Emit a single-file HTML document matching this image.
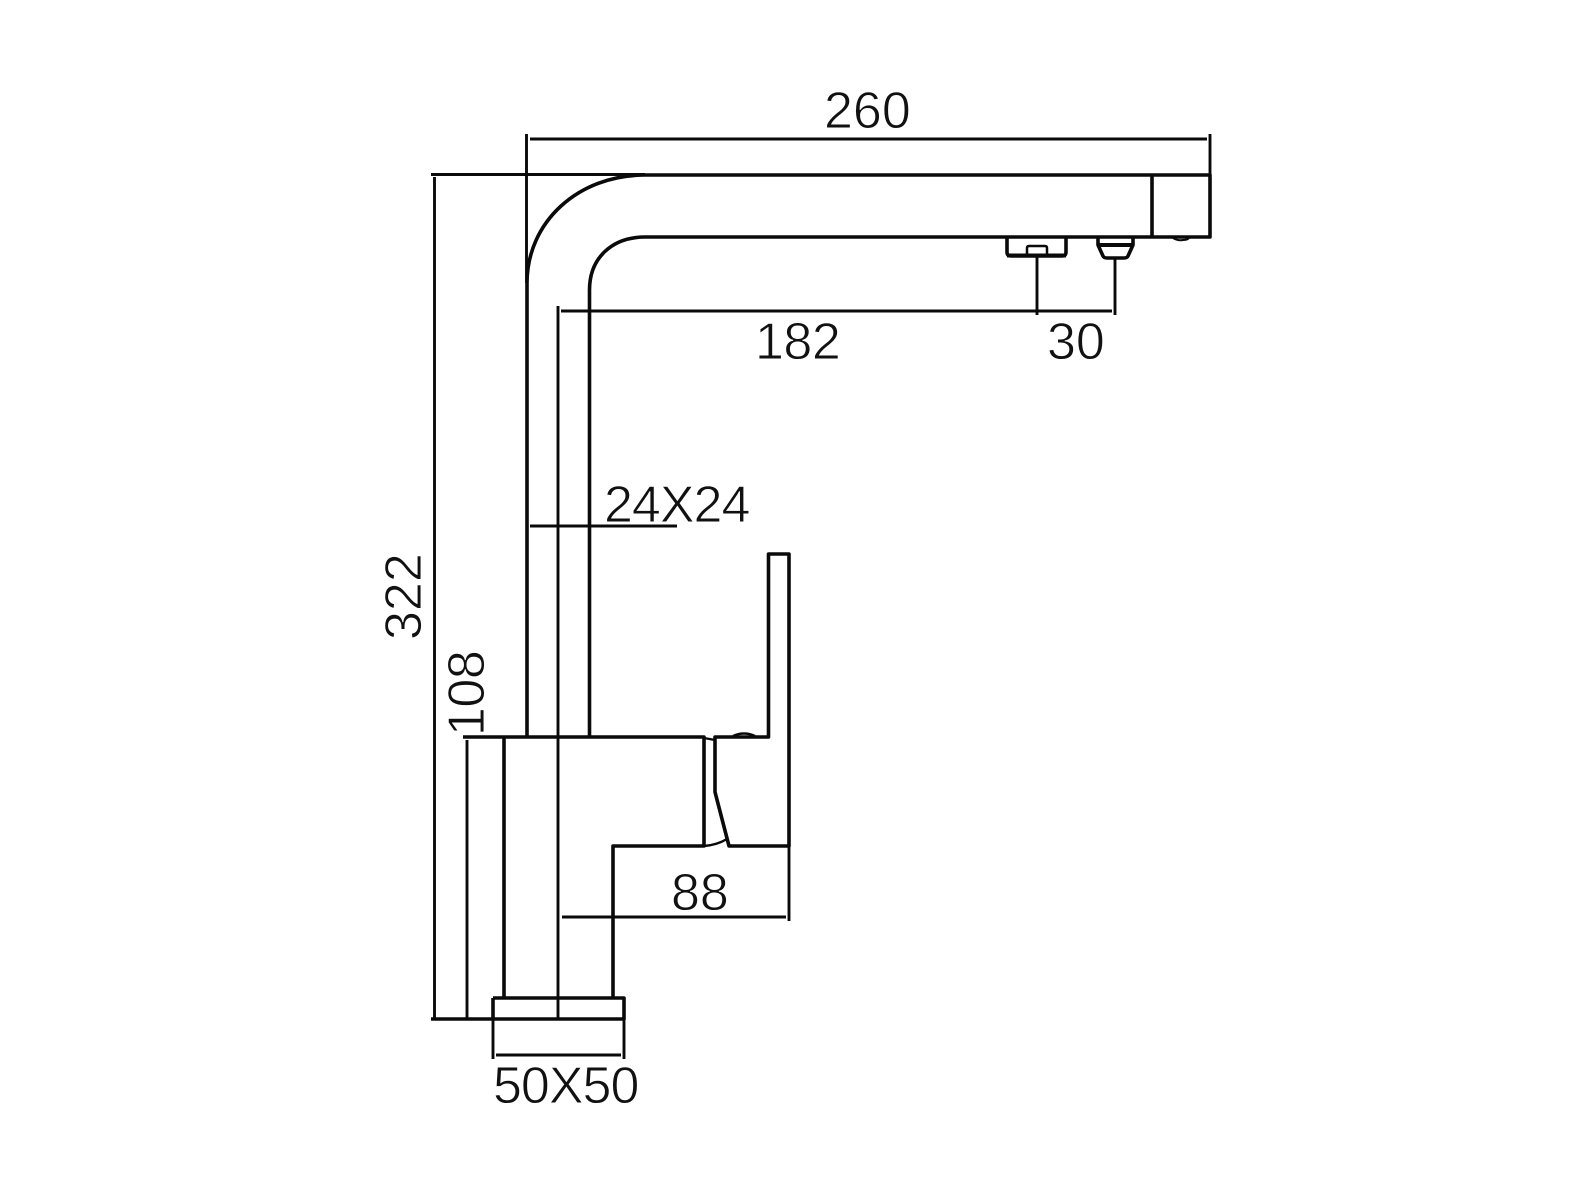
<!DOCTYPE html>
<html>
<head>
<meta charset="utf-8">
<style>
html,body{margin:0;padding:0;background:#fff}
svg{display:block}
text{font-family:"Liberation Sans",sans-serif;font-size:52px;fill:#111;stroke:#fff;stroke-width:.9px}
</style>
</head>
<body>
<svg width="1596" height="1197" viewBox="0 0 1596 1197" xmlns="http://www.w3.org/2000/svg">
<g fill="none" stroke="#0a0a0a" stroke-linejoin="round">
  <!-- spout -->
  <g stroke-width="3.600">
    <path d="M527 737V283C527 222 578 175 645 175H1210V237H645C612 237 589.500 258 589.500 290V737"/>
    <path d="M1152 175V237"/>
    <!-- aerators -->
    <path d="M1007 238V252Q1007 256 1011 256H1062Q1066 256 1066 252V238"/>
    <path d="M1007 255.500H1066" stroke-width="4"/>
    <path d="M1027 254V248Q1027 246 1029 246H1045Q1047 246 1047 248V254" stroke-width="2.500"/>
    <path d="M1098 238V245L1103 256Q1104 258 1107 258H1124Q1127 258 1128 256L1133 245V238"/>
    <path d="M1098 245H1133" stroke-width="4"/>
    <path d="M1173 238Q1178 241 1183 240Q1187 240 1189 238" stroke-width="2"/>
    <!-- body -->
    <path d="M463 737H704V846H613V998"/>
    <path d="M504 737V998"/>
    <path d="M704 846Q717 845 727 839" stroke-width="2.400"/>
    <path d="M704 738L715 740" stroke-width="2.400"/>
    <!-- handle -->
    <path d="M715 737H768.500V554H789V846H729L715 792Z"/>
    <path d="M733 736Q744 731 755 736" stroke-width="2.400"/>
    <!-- base -->
    <path d="M493 998H624V1019H431"/>
    <path d="M493 998V1019"/>
  </g>
  <!-- dimensions -->
  <g stroke-width="2.900">
    <path d="M526.500 134V283"/>
    <path d="M1210 134V175"/>
    <path d="M530 139H1207"/>
    <path d="M431 174.500H645"/>
    <path d="M434.500 177V1018"/>
    <path d="M467 740V1018"/>
    <path d="M558 306V1019"/>
    <path d="M561 311H1112"/>
    <path d="M1037 256V315"/>
    <path d="M1115 258V315"/>
    <path d="M530 526H677"/>
    <path d="M562 917H786"/>
    <path d="M789 846V921"/>
    <path d="M493 1019V1059"/>
    <path d="M624 1019V1059"/>
    <path d="M496 1055H621"/>
  </g>
</g>
<text x="824" y="128">260</text>
<text x="755" y="359" letter-spacing="-.5">182</text>
<text x="1047" y="359">30</text>
<text x="604" y="522" letter-spacing="-1">24X24</text>
<text x="671" y="910">88</text>
<text x="493" y="1103" letter-spacing="-1">50X50</text>
<text transform="translate(421 640) rotate(-90)">322</text>
<text transform="translate(484 736) rotate(-90)" letter-spacing="-.5">108</text>
</svg>
</body>
</html>
